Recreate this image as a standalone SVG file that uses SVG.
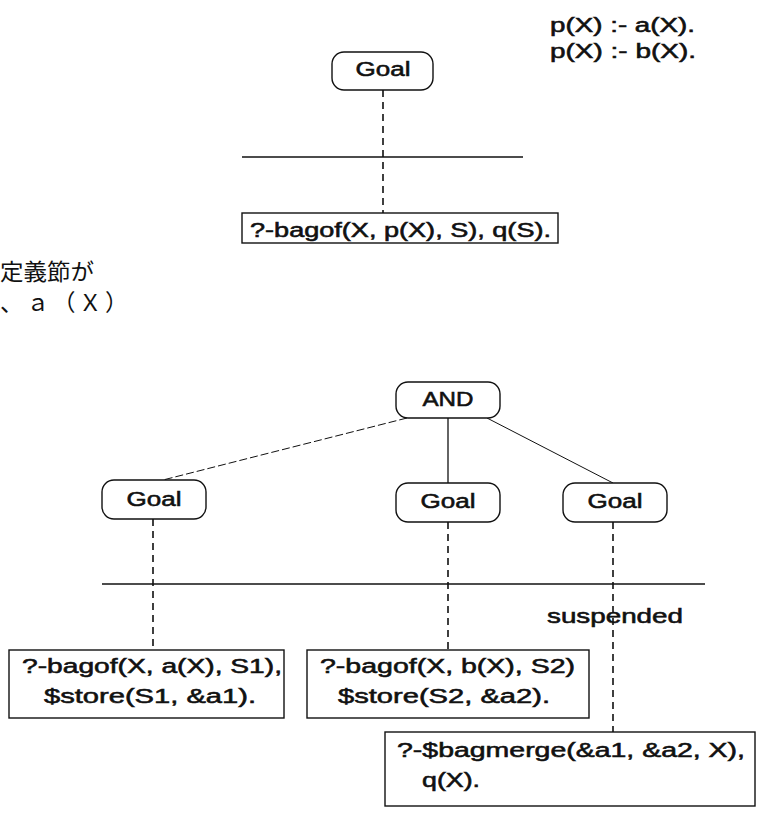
<svg xmlns="http://www.w3.org/2000/svg" width="760" height="815" viewBox="0 0 760 815">
<style>
.t{font-family:"Liberation Sans",Arial,sans-serif;font-size:20px;font-weight:normal;fill:#111;stroke:#111;stroke-width:0.55}
.jp{font-family:"Noto Sans CJK JP",sans-serif;font-size:23px;fill:#111}
.node{fill:#fff;stroke:#111;stroke-width:1.4}
.box{fill:#fff;stroke:#111;stroke-width:1.4}
.dash{stroke:#111;stroke-width:1.6;stroke-dasharray:7 5;fill:none}
.solid{stroke:#111;stroke-width:1.3;fill:none}
.thin{stroke:#111;stroke-width:1;fill:none}
</style>
<rect width="760" height="815" fill="#fff"/>
<g id="clauses">
<text class="t" x="550" y="32" textLength="145" lengthAdjust="spacingAndGlyphs">p(X) :- a(X).</text>
<text class="t" x="550" y="58" textLength="146" lengthAdjust="spacingAndGlyphs">p(X) :- b(X).</text>
</g>
<g id="note">
<text class="jp" x="0" y="280" textLength="94" lengthAdjust="spacingAndGlyphs">定義節が</text>
<text class="jp" x="0" y="311" textLength="128" lengthAdjust="spacing">、ａ（Ｘ）</text>
</g>
<g id="connectors">
<line class="dash" x1="383" y1="90" x2="383" y2="213"/>
<line class="solid" x1="242" y1="157" x2="523" y2="157"/>
<line class="dash" x1="407" y1="418" x2="163" y2="480" style="stroke-width:1;stroke-dasharray:8 3"/>
<line class="solid" x1="448" y1="418" x2="448" y2="483"/>
<line class="thin" x1="487" y1="418" x2="613" y2="483"/>
<line class="dash" x1="153" y1="519" x2="153" y2="650"/>
<line class="dash" x1="448" y1="522" x2="448" y2="650"/>
<line class="dash" x1="613" y1="522" x2="613" y2="732"/>
<line class="solid" x1="102" y1="584" x2="705" y2="584"/>
</g>
<g id="goal-top">
<rect class="node" x="332" y="52" width="101" height="38" rx="12"/>
<text class="t" x="383" y="76" text-anchor="middle" textLength="55" lengthAdjust="spacingAndGlyphs">Goal</text>
</g>
<g id="query">
<rect class="box" x="242" y="213" width="316" height="30"/>
<text class="t" x="250" y="237" textLength="301" lengthAdjust="spacingAndGlyphs">?-bagof(X, p(X), S), q(S).</text>
</g>
<g id="and">
<rect class="node" x="396" y="382" width="104" height="36" rx="12"/>
<text class="t" x="448" y="406" text-anchor="middle" textLength="51" lengthAdjust="spacingAndGlyphs">AND</text>
</g>
<g id="goal-left">
<rect class="node" x="102" y="480" width="104" height="39" rx="12"/>
<text class="t" x="154" y="506" text-anchor="middle" textLength="55" lengthAdjust="spacingAndGlyphs">Goal</text>
</g>
<g id="goal-mid">
<rect class="node" x="396" y="483" width="104" height="39" rx="12"/>
<text class="t" x="448" y="508" text-anchor="middle" textLength="55" lengthAdjust="spacingAndGlyphs">Goal</text>
</g>
<g id="goal-right">
<rect class="node" x="563" y="483" width="104" height="39" rx="12"/>
<text class="t" x="615" y="508" text-anchor="middle" textLength="55" lengthAdjust="spacingAndGlyphs">Goal</text>
</g>
<g id="suspended">
<text class="t" x="547" y="623" textLength="136" lengthAdjust="spacingAndGlyphs">suspended</text>
</g>
<g id="box-a">
<rect class="box" x="9" y="650" width="275" height="68"/>
<text class="t" x="22" y="673" textLength="260" lengthAdjust="spacingAndGlyphs">?-bagof(X, a(X), S1),</text>
<text class="t" x="44" y="703" textLength="212" lengthAdjust="spacingAndGlyphs">$store(S1, &amp;a1).</text>
</g>
<g id="box-b">
<rect class="box" x="307" y="650" width="282" height="68"/>
<text class="t" x="320" y="673" textLength="255" lengthAdjust="spacingAndGlyphs">?-bagof(X, b(X), S2)</text>
<text class="t" x="338" y="703" textLength="212" lengthAdjust="spacingAndGlyphs">$store(S2, &amp;a2).</text>
</g>
<g id="box-merge">
<rect class="box" x="385" y="732" width="370" height="74"/>
<text class="t" x="397" y="757" textLength="348" lengthAdjust="spacingAndGlyphs">?-$bagmerge(&amp;a1, &amp;a2, X),</text>
<text class="t" x="422" y="787" textLength="58" lengthAdjust="spacingAndGlyphs">q(X).</text>
</g>
</svg>
